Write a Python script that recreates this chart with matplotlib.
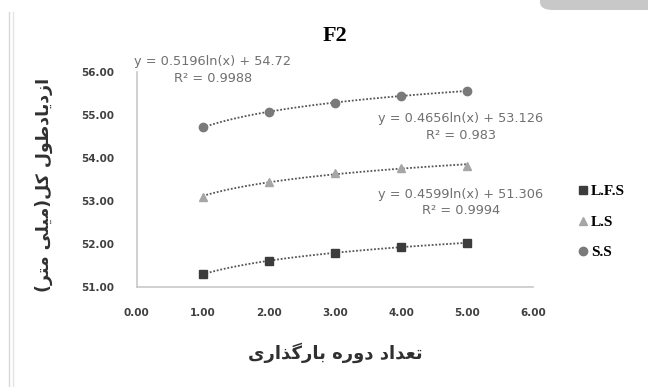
import numpy as np
import matplotlib.pyplot as plt
from matplotlib.patches import FancyBboxPatch
from matplotlib.lines import Line2D

# loading cycles
cycles = [1, 2, 3, 4, 5]

# total elongation (mm) per series
lfs = [51.30, 51.61, 51.80, 51.93, 52.03]
ls = [53.10, 53.45, 53.65, 53.78, 53.81]
ss = [54.71, 55.08, 55.29, 55.44, 55.56]

series_names = ['L.F.S', 'L.S', 'S.S']
equations = ['y = 0.4599ln(x) + 51.306\nR\u00b2 = 0.9994',
             'y = 0.4656ln(x) + 53.126\nR\u00b2 = 0.983',
             'y = 0.5196ln(x) + 54.72\nR\u00b2 = 0.9988']

x_ticks = [0, 1, 2, 3, 4, 5, 6]
y_ticks = [51, 52, 53, 54, 55, 56]

# persian labels, written with presentation forms in visual order
# (matplotlib does no arabic shaping)
xlabel_forms = ('\uFE97\uFECC\uFEAA\uFE8D\uFEA9 '
                '\uFEA9\uFEED\uFEAD\uFEE9 '
                '\uFE91\uFE8E\uFEAD\uFB94\uFEAC\uFE8D\uFEAD\uFBFC')
ylabel_forms = ('\uFE8D\uFEAF\uFEA9\uFBFE\uFE8E\uFEA9\uFEC3\uFEEE\uFEDD '
                '\uFB90\uFEDE(\uFEE3\uFBFF\uFEE0\uFBFD \uFEE3\uFE98\uFEAE)')


def visual(s):
    s = s[::-1]
    return s.replace('(', '\0').replace(')', '(').replace('\0', ')')


fig = plt.figure(figsize=(6.48, 3.87), dpi=100)
fig.patch.set_facecolor('white')
ax = fig.add_axes([0.211, 0.258, 0.612, 0.556])

colors = ['#3c3c3c', '#a6a6a6', '#7a7a7a']
markers = ['s', '^', 'o']
data = [lfs, ls, ss]

xs = np.array(cycles, dtype=float)
xfine = np.linspace(1, 5, 100)
for vals, c, m in zip(data, colors, markers):
    k, b = np.polyfit(np.log(xs), vals, 1)
    ax.plot(xfine, k * np.log(xfine) + b, ls=(0, (1, 1)), color='#555555', lw=1.3)
    ax.plot(cycles, vals, ls='none', marker=m, color=c, ms=6)

ax.set_xlim(0, 6)
ax.set_ylim(51, 56)
ax.set_xticks(x_ticks)
ax.set_yticks(y_ticks)
ax.set_xticklabels(['%.2f' % v for v in x_ticks])
ax.set_yticklabels(['%.2f' % v for v in y_ticks])
ax.tick_params(length=0, labelsize=7.5, colors='#404040')
ax.tick_params(axis='x', pad=15)
ax.tick_params(axis='y', pad=16)
for lab in ax.get_xticklabels() + ax.get_yticklabels():
    lab.set_fontweight('bold')
for sp in ['top', 'right']:
    ax.spines[sp].set_visible(False)
for sp in ['left', 'bottom']:
    ax.spines[sp].set_color('#c8c8c8')
    ax.spines[sp].set_linewidth(1.2)

# trendline equations
eq_pos = [(4.9, 52.97), (4.9, 54.72), (1.15, 56.05)]
for (ex, ey), txt in zip(eq_pos, equations):
    ax.text(ex, ey, txt, ha='center', va='center', fontsize=9.3,
            color='#707070', linespacing=1.35)

fig.text(335 / 648, 1 - 36 / 387, 'F2', ha='center', va='center',
         fontsize=16, fontweight='bold', family='Liberation Serif')
fig.text(335 / 648, 1 - 353 / 387, visual(xlabel_forms), ha='center',
         va='center', fontsize=13, fontweight='bold', color='#303030')
fig.text(44 / 648, 1 - 185 / 387, visual(ylabel_forms), ha='center',
         va='center', rotation=90, fontsize=12.5, fontweight='bold',
         color='#303030')

handles = [Line2D([], [], ls='none', marker=m, color=c, ms=6)
           for m, c in zip(markers, colors)]
fig.legend(handles, series_names, loc='upper left',
           bbox_to_anchor=(565 / 648, 1 - 171 / 387), frameon=False,
           handlelength=0.6, handletextpad=0.2, labelspacing=1.1,
           prop={'family': 'Liberation Serif', 'weight': 'bold', 'size': 11})

# frame decorations of the screenshot
fig.add_artist(Line2D([9 / 648, 9 / 648], [0, 1 - 12 / 387], color='#d8d8d8', lw=1))
fig.add_artist(Line2D([13 / 648, 13 / 648], [0, 1 - 12 / 387], color='#e4e4e4', lw=1))
fig.add_artist(FancyBboxPatch((540 / 648, 1 - 10 / 387), 0.3, 0.1,
                              boxstyle='round,pad=0,rounding_size=0.02',
                              fc='#c8c8c8', ec='none', transform=fig.transFigure))

fig.savefig('out.png', dpi=100)
